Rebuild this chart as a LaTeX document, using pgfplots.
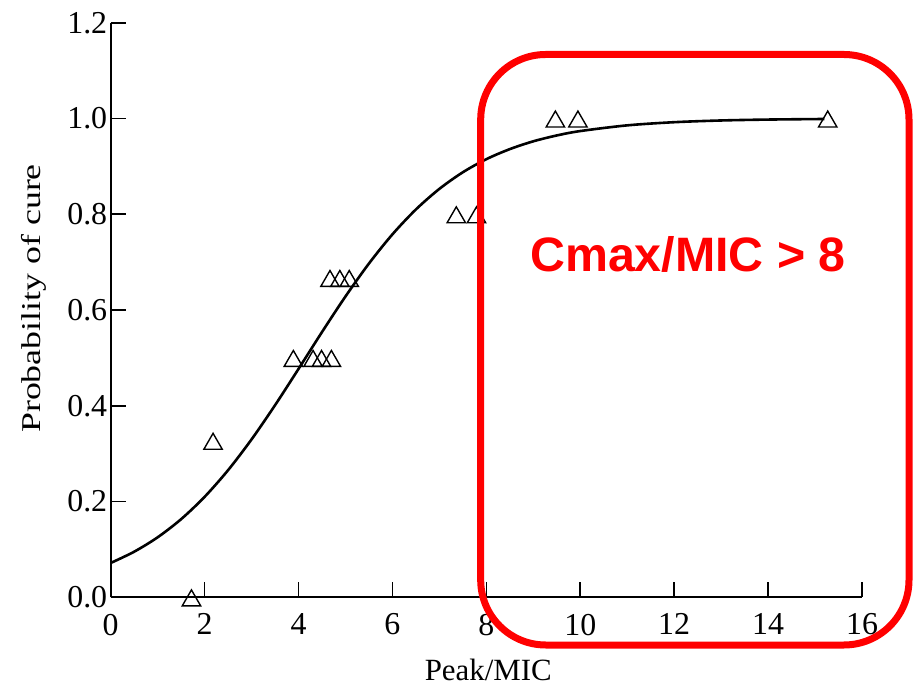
\documentclass[border=0pt]{standalone}
\usepackage{pgfplots}
\pgfplotsset{compat=1.18}
\usepackage{fontspec}
\setmainfont{Liberation Serif}
\newfontfamily\redfont{Liberation Sans}
\begin{document}
\begin{tikzpicture}
\begin{axis}[
  at={(0,0)}, anchor=origin,
  scale only axis,
  width=751.3bp, height=574.6bp,
  xmin=0, xmax=16, ymin=0, ymax=1.2,
  axis x line*=bottom, axis y line*=left,
  axis line style={line width=1.9bp},
  tick style={line width=1.7bp, black},
  tick align=inside,
  major tick length=15.5bp,
  xtick={0,2,...,16},
  ytick={0,0.2,0.4,0.6,0.8,1.0,1.2},
  yticklabel style={/pgf/number format/.cd, fixed, fixed zerofill, precision=1},
  /pgf/number format/assume math mode=true,
  tick label style={font=\fontsize{32}{36}\selectfont},
  xticklabel style={yshift=-13bp},
  label style={font=\fontsize{31}{36}\selectfont},
  xlabel={Peak/MIC},
  xlabel style={at={(axis description cs:0.5026,-0.145)}, anchor=base},
  ylabel={\scalebox{1.16}[0.88]{Probability of cure}},
  ylabel style={at={(axis description cs:-0.094,0.52)}, anchor=base},
  clip=false,
]
\addplot[black, line width=2.6bp, smooth] coordinates {
(0,0.0717) (0.5,0.0952) (1,0.1253) (1.5,0.1632) (2,0.2098) (2.5,0.2655)
(3,0.3298) (3.5,0.4012) (4,0.477) (4.5,0.554) (5,0.6283) (5.5,0.6971)
(6,0.758) (6.5,0.81) (7,0.853) (7.5,0.8877) (8,0.915) (8.5,0.936)
(9,0.9523) (9.5,0.9645) (10,0.9737) (11,0.9856) (12,0.9922) (13,0.9958)
(14,0.9977) (15.2,0.9989)
};
\addplot[only marks, mark=triangle, mark size=10.6bp,
  mark options={line width=1.4bp, black, yshift=-3.2bp}] coordinates {
(1.72,0.0) (2.18,0.327)
(3.89,0.5) (4.31,0.5) (4.49,0.5) (4.70,0.5)
(4.67,0.667) (4.88,0.667) (5.08,0.667)
(7.36,0.8) (7.79,0.8)
(9.47,1.0) (9.95,1.0) (15.27,1.0)
};
\end{axis}
\draw[red, line width=7bp, rounded corners=65bp] (370bp,-47.7bp) rectangle (798.3bp,542.8bp);
\node[red, font=\redfont\bfseries\fontsize{48.5}{56}\selectfont, anchor=base] at (577.3bp,325.6bp) {Cmax/MIC > 8};
\pgfresetboundingbox
\path[use as bounding box] (-110.7bp,-88.7bp) rectangle (807.3bp,597.3bp);
\end{tikzpicture}
\end{document}
